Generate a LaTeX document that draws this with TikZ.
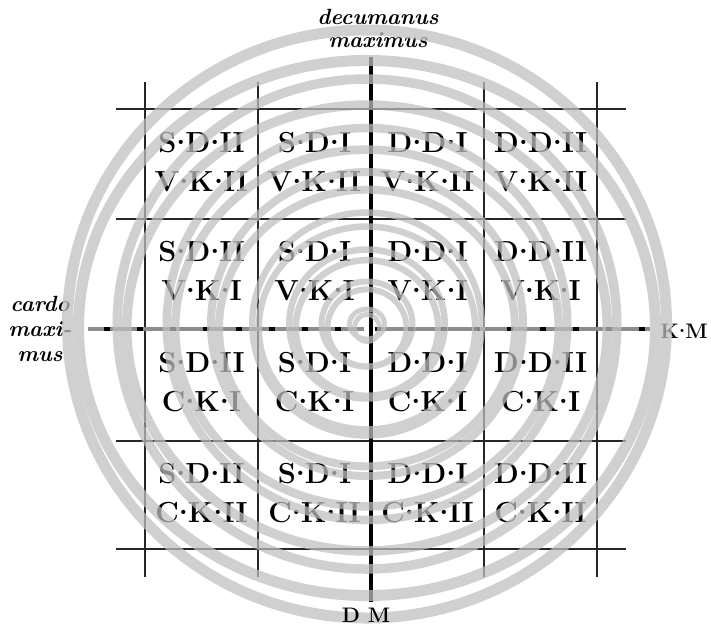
\documentclass[tikz,border=0pt]{standalone}
\usepackage{fontspec}
\newcommand\mdot{\raisebox{0.26em}{.}}
\begin{document}
\begin{tikzpicture}[x=1pt,y=-1pt,
  thinline/.style={line width=1.1pt, black!85},
  cell/.style={font=\bfseries\fontsize{29}{39}\selectfont, align=center, inner sep=0pt},
  lab/.style={font=\bfseries\itshape\fontsize{22}{23}\selectfont, align=center, inner sep=0pt},
  endlab/.style={font=\bfseries\fontsize{21}{22}\selectfont, inner sep=0pt},
  ringband/.style={draw=black!25}]
\useasboundingbox (0,0) rectangle (711,630);
% grid
\foreach \y in {109,219,441,549} \draw[thinline] (116,\y) -- (626,\y);
\foreach \x in {145,258,484,597} \draw[thinline] (\x,82) -- (\x,577);
% cardo maximus
\draw[line width=3.5pt, black!45] (88,329) -- (364,329) (375,329) -- (650,329);
\draw[line width=3.5pt, dash pattern=on 6pt off 27pt] (104,329) -- (364,329);
\draw[line width=3.5pt, dash pattern=on 6pt off 27pt] (375,329) -- (650,329);
% decumanus maximus
\draw[line width=4.5pt] (371,57) -- (371,602);
% cells
\node[cell] (c11) at (201.5,162) {S\mdot D\mdot II\\V\mdot K\mdot II};
\node[cell] (c12) at (314.5,162) {S\mdot D\mdot I\\V\mdot K\mdot II};
\node[cell] (c13) at (427.5,162) {D\mdot D\mdot I\\V\mdot K\mdot II};
\node[cell] (c14) at (540.5,162) {D\mdot D\mdot II\\V\mdot K\mdot II};
\node[cell] (c21) at (201.5,271) {S\mdot D\mdot II\\V\mdot K\mdot I};
\node[cell] (c22) at (314.5,271) {S\mdot D\mdot I\\V\mdot K\mdot I};
\node[cell] (c23) at (427.5,271) {D\mdot D\mdot I\\V\mdot K\mdot I};
\node[cell] (c24) at (540.5,271) {D\mdot D\mdot II\\V\mdot K\mdot I};
\node[cell] (c31) at (201.5,382) {S\mdot D\mdot II\\C\mdot K\mdot I};
\node[cell] (c32) at (314.5,382) {S\mdot D\mdot I\\C\mdot K\mdot I};
\node[cell] (c33) at (427.5,382) {D\mdot D\mdot I\\C\mdot K\mdot I};
\node[cell] (c34) at (540.5,382) {D\mdot D\mdot II\\C\mdot K\mdot I};
\node[cell] (c41) at (201.5,493) {S\mdot D\mdot II\\C\mdot K\mdot II};
\node[cell] (c42) at (314.5,493) {S\mdot D\mdot I\\C\mdot K\mdot II};
\node[cell] (c43) at (427.5,493) {D\mdot D\mdot I\\C\mdot K\mdot II};
\node[cell] (c44) at (540.5,493) {D\mdot D\mdot II\\C\mdot K\mdot II};
% labels
\node[lab] (dec) at (378,28) {decumanus\\maximus};
\node[lab, font=\bfseries\itshape\fontsize{22}{25}\selectfont] (card) at (40,329) {cardo\\maxi-\\mus};
\node[endlab] (km) at (684,331) {K\mdot M};
% watermark rings: two thin elliptic families that merge at the sides
\begin{scope}[transparency group, opacity=0.73]
\foreach \r/\w in {15/10, 42.5/12, 74.5/13, 111.5/13, 152/16, 196/17, 245/19, 294/22} {
  \pgfmathsetmacro\hw{\w/2}
  \pgfmathsetmacro\ra{\r+\w/4}
  \pgfmathsetmacro\rb{\r-\w/4}
  \pgfmathsetmacro\ryb{0.91*\r}
  \draw[ringband, line width=\hw pt] (367,324) ellipse [x radius=\ra pt, y radius=\r pt];
  \draw[ringband, line width=\hw pt] (367,328) ellipse [x radius=\rb pt, y radius=\ryb pt];
}
\end{scope}
\node[endlab] (dm) at (366,615) {D M};
\end{tikzpicture}
\end{document}
